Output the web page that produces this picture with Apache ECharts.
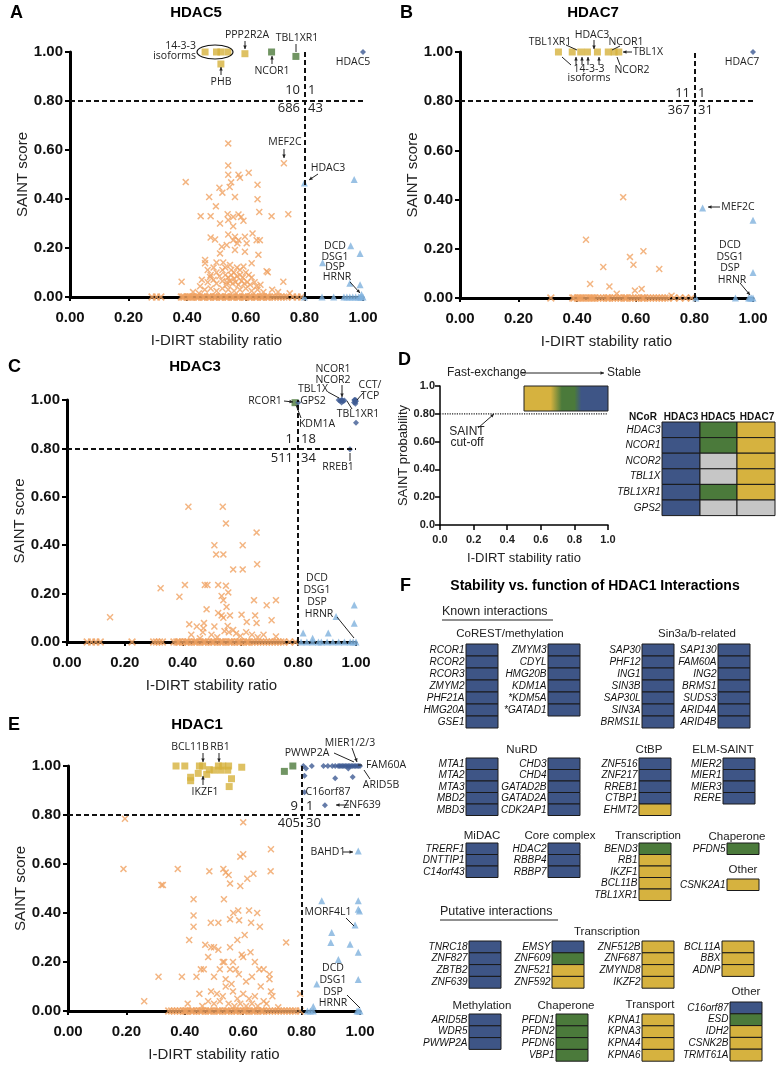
<!DOCTYPE html>
<html>
<head>
<meta charset="utf-8">
<script src="https://cdn.jsdelivr.net/npm/echarts@6/dist/echarts.min.js"></script>
<style>html,body{margin:0;padding:0;background:#fff}#main{width:777px;height:1066px}</style>
</head>
<body>
<div id="main"></div>
<script>
// ---------- scatter data (I-DIRT ratio, SAINT score) ----------
// HDAC5
var A_fast = [[0.54,0.627],[0.54,0.537],[0.73,0.546],[0.395,0.469],[0.54,0.499],[0.575,0.499],[0.58,0.487],[0.61,0.507],[0.51,0.446],[0.52,0.426],[0.55,0.468],[0.545,0.449],[0.64,0.458],[0.475,0.408],[0.563,0.408],[0.64,0.399],[0.498,0.37],[0.646,0.347],[0.446,0.33],[0.48,0.33],[0.538,0.338],[0.557,0.327],[0.575,0.337],[0.584,0.327],[0.54,0.314],[0.512,0.3],[0.557,0.289],[0.592,0.311],[0.688,0.33],[0.745,0.338],[0.623,0.259],[0.54,0.255],[0.48,0.243],[0.495,0.235],[0.563,0.246],[0.575,0.232],[0.557,0.232],[0.597,0.246],[0.535,0.212],[0.518,0.205],[0.571,0.219],[0.603,0.219],[0.637,0.232],[0.648,0.232],[0.563,0.192],[0.597,0.185],[0.643,0.172],[0.512,0.178],[0.461,0.151],[0.546,0.131],[0.50,0.141],[0.523,0.141],[0.461,0.138],[0.62,0.138],[0.675,0.101],[0.592,0.124],
  [0.47,0.11],[0.49,0.12],[0.50,0.10],[0.52,0.11],[0.53,0.12],[0.55,0.11],[0.56,0.10],[0.57,0.12],[0.58,0.11],[0.60,0.10],[0.48,0.09],[0.51,0.085],[0.53,0.09],[0.54,0.08],[0.55,0.09],[0.56,0.075],[0.57,0.085],[0.58,0.09],[0.59,0.08],[0.61,0.09],[0.62,0.08],[0.45,0.07],[0.47,0.06],[0.49,0.07],[0.50,0.055],[0.52,0.065],[0.535,0.05],[0.545,0.065],[0.555,0.055],[0.565,0.06],[0.575,0.05],[0.585,0.065],[0.595,0.055],[0.605,0.06],[0.615,0.05],[0.63,0.06],[0.65,0.05],[0.381,0.062],[0.444,0.044],[0.478,0.082],[0.671,0.105],[0.728,0.062],[0.637,0.044],[0.535,0.06],[0.46,0.03],[0.48,0.035],[0.50,0.025],[0.52,0.035],[0.54,0.03],[0.56,0.025],[0.58,0.03],[0.60,0.035],[0.62,0.025],[0.64,0.03],[0.66,0.02],[0.69,0.03],[0.71,0.02],[0.75,0.015],[0.42,0.02],[0.44,0.015]];
var A_zeroFast = [0.28,0.295,0.31,0.38,0.385,0.39,0.40,0.405,0.41,0.415,0.42,0.43,0.435,0.44,0.45,0.455,0.46,0.47,0.475,0.48,0.49,0.495,0.50,0.51,0.515,0.52,0.53,0.535,0.54,0.55,0.555,0.56,0.57,0.575,0.58,0.59,0.595,0.60,0.61,0.615,0.62,0.63,0.635,0.64,0.65,0.655,0.66,0.67,0.675,0.68,0.69,0.70,0.71,0.72,0.73,0.74,0.76,0.775,0.79];
var A_slow = [[0.80,0.465],[0.97,0.48],[0.958,0.209],[0.99,0.178],[0.862,0.14],[0.955,0.056],[0.99,0.05],[0.995,0.01]];
var A_zeroSlow = [0.80,0.86,0.90,0.935,0.945,0.955,0.965,0.975,0.985,0.99,0.995,1.0];
var A_yellow = [[0.461,1],[0.50,1],[0.515,1],[0.539,1],[0.515,0.951],[0.597,0.993]];
var A_green = [[0.688,1],[0.771,0.982]];
var A_bait = [[1,1]];
var A_counts = ['10','1','686','43'];

// HDAC7
var B_fast = [[0.557,0.41],[0.43,0.237],[0.58,0.167],[0.626,0.19],[0.489,0.126],[0.592,0.135],[0.68,0.118],[0.444,0.057],[0.51,0.047],[0.535,0.017],[0.597,0.03],[0.62,0.037],[0.722,0.009]];
var B_zeroFast = [0.31,0.385,0.39,0.40,0.405,0.41,0.415,0.42,0.43,0.44,0.445,0.45,0.455,0.46,0.47,0.48,0.49,0.50,0.505,0.51,0.52,0.53,0.54,0.55,0.56,0.565,0.57,0.58,0.59,0.60,0.61,0.62,0.625,0.63,0.64,0.65,0.66,0.67,0.68,0.69,0.70,0.71,0.73,0.75,0.77,0.79];
var B_slow = [[0.828,0.366],[1.0,0.316],[1.0,0.104]];
var B_zeroSlow = [0.805,0.94,0.985,0.99,0.995,1.0];
var B_yellow = [[0.336,1],[0.383,1],[0.412,1],[0.435,1],[0.469,1],[0.506,1],[0.526,1],[0.542,1]];
var B_bait = [[1,1]];
var B_counts = ['11','1','367','31'];

// HDAC3
var C_fast = [[0.42,0.559],[0.539,0.559],[0.55,0.49],[0.51,0.40],[0.608,0.40],[0.516,0.362],[0.541,0.362],[0.575,0.30],[0.608,0.30],[0.658,0.321],[0.656,0.452],
  [0.324,0.222],[0.389,0.187],[0.408,0.236],[0.477,0.236],[0.486,0.236],[0.523,0.236],[0.55,0.232],[0.558,0.205],[0.535,0.19],[0.541,0.173],[0.647,0.173],[0.723,0.173],[0.691,0.152],[0.149,0.102],[0.483,0.135],[0.523,0.12],[0.535,0.11],[0.541,0.10],[0.564,0.11],[0.604,0.113],[0.651,0.11],[0.552,0.145],[0.708,0.09],[0.423,0.073],[0.449,0.064],[0.474,0.078],[0.51,0.064],[0.472,0.057],[0.622,0.083],[0.656,0.078],[0.556,0.066],[0.723,0.023],
  [0.43,0.03],[0.47,0.04],[0.50,0.03],[0.545,0.045],[0.56,0.04],[0.575,0.05],[0.585,0.035],[0.60,0.025],[0.62,0.04],[0.64,0.03],[0.66,0.02],[0.68,0.03],[0.46,0.015],[0.52,0.02]];
var C_zeroFast = [0.07,0.085,0.10,0.115,0.225,0.30,0.31,0.32,0.33,0.37,0.38,0.385,0.39,0.40,0.41,0.415,0.42,0.43,0.44,0.445,0.45,0.46,0.47,0.475,0.48,0.49,0.50,0.505,0.51,0.52,0.53,0.535,0.54,0.55,0.56,0.565,0.57,0.58,0.59,0.595,0.60,0.61,0.62,0.625,0.63,0.64,0.65,0.66,0.67,0.68,0.69,0.70,0.71,0.72,0.73,0.74,0.75,0.77,0.79];
var C_slow = [[0.817,0.037],[0.85,0.015],[0.904,0.037],[0.931,0.105],[0.994,0.153],[0.994,0.077]];
var C_zeroSlow = [0.81,0.83,0.85,0.87,0.88,0.90,0.92,0.94,0.96,0.98,0.99,1.0];
var C_green = [[0.789,0.989]];
var C_blue = [[0.80,0.99],[0.94,1.0],[0.945,0.996],[0.95,1.0],[0.955,0.995],[0.96,0.998],[0.993,0.99],[0.996,1.0],[1.0,0.995],[0.998,0.985],[1.0,0.906],[0.979,0.797],[0.95,0.99],[0.952,1.0],[0.994,1.0],[0.997,0.992],[0.999,1.0]];
var C_counts = ['1','18','511','34'];

// HDAC1
var E_fast = [[0.195,0.785],[0.60,0.77],[0.695,0.66],[0.19,0.58],[0.376,0.58],[0.484,0.57],[0.532,0.58],[0.54,0.565],[0.55,0.555],[0.555,0.52],[0.59,0.63],[0.60,0.64],[0.59,0.51],[0.614,0.54],[0.635,0.56],[0.694,0.57],[0.32,0.514],[0.325,0.514],
  [0.43,0.456],[0.43,0.39],[0.43,0.344],[0.534,0.456],[0.583,0.41],[0.566,0.40],[0.62,0.41],[0.648,0.40],[0.627,0.36],[0.657,0.344],[0.489,0.36],[0.515,0.36],[0.555,0.374],[0.586,0.37],[0.415,0.29],[0.747,0.28],
  [0.261,0.04],[0.31,0.14],[0.39,0.14],[0.44,0.14],[0.41,0.03],
  [0.47,0.27],[0.49,0.26],[0.50,0.26],[0.515,0.25],[0.53,0.20],[0.535,0.20],[0.555,0.26],[0.565,0.20],[0.58,0.29],[0.595,0.23],[0.60,0.22],[0.625,0.24],[0.605,0.31],[0.64,0.20],[0.655,0.17],[0.67,0.17],[0.69,0.15],[0.465,0.17],[0.455,0.17],[0.48,0.22],[0.50,0.14],[0.52,0.17],[0.54,0.13],[0.555,0.17],[0.575,0.17],[0.585,0.15],[0.61,0.12],[0.63,0.14],[0.66,0.10],[0.69,0.13],[0.695,0.08],[0.70,0.06],[0.45,0.07],[0.49,0.08],[0.51,0.07],[0.53,0.06],[0.565,0.08],[0.58,0.05],[0.60,0.07],[0.62,0.05],[0.64,0.06],[0.67,0.04],[0.48,0.04],[0.50,0.03],[0.52,0.04],[0.55,0.03],[0.57,0.02],[0.59,0.03],[0.61,0.02],[0.63,0.03],[0.65,0.02],[0.68,0.03],[0.72,0.015],[0.795,0.07],[0.46,0.02],[0.54,0.10],[0.56,0.11]];
var E_zeroFast = [0.345,0.355,0.365,0.375,0.385,0.395,0.40,0.405,0.41,0.42,0.425,0.43,0.44,0.45,0.455,0.46,0.47,0.48,0.485,0.49,0.50,0.51,0.515,0.52,0.53,0.54,0.545,0.55,0.56,0.57,0.575,0.58,0.59,0.60,0.605,0.61,0.62,0.63,0.635,0.64,0.65,0.66,0.665,0.67,0.68,0.69,0.70,0.71,0.72,0.73,0.74,0.75,0.76,0.77,0.78,0.795];
var E_slow = [[0.994,0.653],[0.869,0.45],[0.994,0.45],[0.994,0.415],[0.998,0.408],[0.983,0.351],[0.903,0.32],[0.90,0.28],[0.966,0.272],[0.926,0.21],[0.994,0.24],[0.994,0.129],[0.852,0.11],[0.84,0.018]];
var E_zeroSlow = [0.82,0.83,0.84,0.99,0.995,1.0];
var E_yellow = [[0.37,1],[0.40,1],[0.45,1],[0.461,1],[0.484,0.985],[0.515,1],[0.53,1],[0.55,1],[0.595,0.995],[0.42,0.954],[0.446,0.97],[0.475,0.966],[0.50,0.983],[0.523,0.983],[0.547,0.983],[0.56,0.948],[0.552,0.916],[0.42,0.94]];
var E_green = [[0.741,0.978],[0.77,1.0]];
var E_blue = [[0.806,1],[0.815,0.99],[0.835,1],[0.875,1],[0.89,1],[0.905,1],[0.915,1],[0.925,1],[0.93,1],[0.935,1],[0.94,1],[0.945,1],[0.95,1],[0.955,1],[0.96,1],[0.965,1],[0.97,1],[0.975,1],[0.98,1],[0.985,1],[0.99,1],[0.995,1],[1.0,1],[0.81,0.96],[0.915,0.95],[0.975,0.955],[0.81,0.893],[0.88,0.84],[0.96,0.99]];
var E_counts = ['9','1','405','30'];

// panel D
var D_band = [[0.5,0.82,1.0,1.0]];
var D_cutoff = [[0,0.8],[1,0.8]];
var D_rows = ['HDAC3','NCOR1','NCOR2','TBL1X','TBL1XR1','GPS2'];
var D_cols = ['HDAC3','HDAC5','HDAC7'];
var D_hdac3 = 'bbbbbb', D_hdac5 = 'ggnngn', D_hdac7 = 'yyyyyn';

// panel F (b = stable, g = intermediate, y = fast-exchange)
var coREST_a = ['RCOR1','RCOR2','RCOR3','ZMYM2','PHF21A','HMG20A','GSE1'], coREST_a_s = 'bbbbbbb';
var coREST_b = ['ZMYM3','CDYL','HMG20B','KDM1A','*KDM5A','*GATAD1'], coREST_b_s = 'bbbbbb';
var sin3_a = ['SAP30','PHF12','ING1','SIN3B','SAP30L','SIN3A','BRMS1L'], sin3_a_s = 'bbbbbbb';
var sin3_b = ['SAP130','FAM60A','ING2','BRMS1','SUDS3','ARID4A','ARID4B'], sin3_b_s = 'bbbbbbb';
var nurd_a = ['MTA1','MTA2','MTA3','MBD2','MBD3'], nurd_a_s = 'bbbbb';
var nurd_b = ['CHD3','CHD4','GATAD2B','GATAD2A','CDK2AP1'], nurd_b_s = 'bbbbb';
var ctbp = ['ZNF516','ZNF217','RREB1','CTBP1','EHMT2'], ctbp_s = 'bbbby';
var elm = ['MIER2','MIER1','MIER3','RERE'], elm_s = 'bbbb';
var midac = ['TRERF1','DNTTIP1','C14orf43'], midac_s = 'bbb';
var core = ['HDAC2','RBBP4','RBBP7'], core_s = 'bbb';
var transK = ['BEND3','RB1','IKZF1','BCL11B','TBL1XR1'], transK_s = 'gyyyy';
var chapK = ['PFDN5'], chapK_s = 'g';
var otherK = ['CSNK2A1'], otherK_s = 'y';
var put1 = ['TNRC18','ZNF827','ZBTB2','ZNF639'], put1_s = 'bbbb';
var put2 = ['EMSY','ZNF609','ZNF521','ZNF592'], put2_s = 'bgyy';
var put3 = ['ZNF512B','ZNF687','ZMYND8','IKZF2'], put3_s = 'yyyy';
var put4 = ['BCL11A','BBX','ADNP'], put4_s = 'yyy';
var methP = ['ARID5B','WDR5','PWWP2A'], methP_s = 'bbb';
var chapP = ['PFDN1','PFDN2','PFDN6','VBP1'], chapP_s = 'gggg';
var transpP = ['KPNA1','KPNA3','KPNA4','KPNA6'], transpP_s = 'yyyy';
var otherP = ['C16orf87','ESD','IDH2','CSNK2B','TRMT61A'], otherP_s = 'bgyyy';

// ---------- styling ----------
var fontA = '"Liberation Sans", Arial, sans-serif';
var fontO = '"Open Sans", sans-serif';
var cFast = '#f0a363', cSlow = '#80b2dd', cYel = '#d6b13c', cGrn = '#4e7b3c', cBlu = '#3f5b93';
var cellCol = {b:'#3e5586', g:'#4b7a3b', y:'#d6b23f', n:'#c6c6c6'};
var xSym = 'path://M0,1.5L1.5,0L5,3.5L8.5,0L10,1.5L6.5,5L10,8.5L8.5,10L5,6.5L1.5,10L0,8.5L3.5,5Z';

var myChart = echarts.init(document.getElementById('main'));

function zeros(xs){ return xs.map(function(x){ return [x,0]; }); }
function sc(gi, data, sym, size, color, z){
  return {type:'scatter', xAxisIndex:gi, yAxisIndex:gi, data:data, symbol:sym, symbolSize:size,
    itemStyle:{color:color}, silent:true, z:z||3};
}
function cutLines(gi){
  return {type:'scatter', xAxisIndex:gi, yAxisIndex:gi, data:[], silent:true, z:2,
    markLine:{silent:true, symbol:['none','none'], label:{show:false},
      lineStyle:{color:'#111', width:2, type:[5,3]},
      data:[[{coord:[0.8,0]},{coord:[0.8,1]}],[{coord:[0,0.8]},{coord:[1,0.8]}]]}};
}
function xAx(gi){
  return {gridIndex:gi, type:'value', min:0, max:1, interval:0.2, splitLine:{show:false},
    axisLine:{lineStyle:{color:'#000', width:3}}, axisTick:{length:4, lineStyle:{color:'#000', width:2}},
    axisLabel:{formatter:function(v){return v.toFixed(2);}, fontWeight:'bold', fontSize:15, color:'#111', margin:13, fontFamily:fontA},
    name:'I-DIRT stability ratio', nameLocation:'middle', nameGap:36,
    nameTextStyle:{fontSize:15, color:'#222', fontFamily:fontA}};
}
function yAx(gi){
  return {gridIndex:gi, type:'value', min:0, max:1, interval:0.2, splitLine:{show:false},
    axisLine:{lineStyle:{color:'#000', width:3}}, axisTick:{length:5, lineStyle:{color:'#000', width:2}},
    axisLabel:{formatter:function(v){return v.toFixed(2);}, fontWeight:'bold', fontSize:15, color:'#111', margin:7, fontFamily:fontA},
    name:'SAINT score', nameLocation:'middle', nameGap:40,
    nameTextStyle:{fontSize:15, color:'#222', fontFamily:fontA}};
}

// ---------- table cells ----------
var cells = [];
function addCol(x, y, names, states, w, h, labelled){
  names.forEach(function(n, i){
    cells.push({x:x, y:y + i*h, w:w, h:h, name:labelled === false ? '' : n, s:states.charAt(i)});
  });
}
var RH = 11.8, CW = 32;
addCol(466, 644, coREST_a, coREST_a_s, CW, 12);
addCol(548, 644, coREST_b, coREST_b_s, CW, 12);
addCol(642, 644, sin3_a, sin3_a_s, CW, 12);
addCol(718, 644, sin3_b, sin3_b_s, CW, 12);
addCol(466, 758, nurd_a, nurd_a_s, CW, 11.5);
addCol(548, 758, nurd_b, nurd_b_s, CW, 11.5);
addCol(639, 758, ctbp, ctbp_s, CW, 11.5);
addCol(723, 758, elm, elm_s, CW, 11.5);
addCol(466, 843, midac, midac_s, CW, 11.5);
addCol(548, 843, core, core_s, CW, 11.5);
addCol(639, 843, transK, transK_s, CW, 11.5);
addCol(727, 843, chapK, chapK_s, CW, 11.5);
addCol(727, 879, otherK, otherK_s, CW, 11.5);
addCol(469, 941, put1, put1_s, CW, RH);
addCol(552, 941, put2, put2_s, CW, RH);
addCol(642, 941, put3, put3_s, CW, RH);
addCol(722, 941, put4, put4_s, CW, RH);
addCol(469, 1014, methP, methP_s, CW, RH);
addCol(556, 1014, chapP, chapP_s, CW, RH);
addCol(642, 1014, transpP, transpP_s, CW, RH);
addCol(730, 1002, otherP, otherP_s, CW, RH);
addCol(662, 422, D_rows, D_hdac3, 38, 15.6);
addCol(700, 422, D_rows, D_hdac5, 37, 15.6, false);
addCol(737, 422, D_rows, D_hdac7, 38, 15.6, false);

// ---------- annotation helpers ----------
function T(x, y, text, o){
  o = o || {};
  var al = o.align || 'center';
  return {type:'text', x:x, y:y, silent:true, z:100,
    style:{text:text, fill:o.color || '#222', font:o.font || ('10.5px ' + fontO),
      align:al, textAlign:al, verticalAlign:'middle', textVerticalAlign:'middle'}};
}
function Ln(x1, y1, x2, y2, w, dash){
  return {type:'line', silent:true, z:100, shape:{x1:x1, y1:y1, x2:x2, y2:y2},
    style:{stroke:'#222', lineWidth:w || 1, lineDash:dash || null}};
}
function Ar(x1, y1, x2, y2){
  var a = Math.atan2(y2 - y1, x2 - x1), s = 3.5, c = Math.cos(a), n = Math.sin(a);
  return [Ln(x1, y1, x2, y2),
    {type:'polygon', silent:true, z:100,
     shape:{points:[[x2, y2],[x2 - s*c + s*0.5*n, y2 - s*n - s*0.5*c],[x2 - s*c - s*0.5*n, y2 - s*n + s*0.5*c]]},
     style:{fill:'#222'}}];
}
var bold = function(px){ return 'bold ' + px + 'px ' + fontA; };
var cnt = '13px ' + fontO;
function counts(xr, yTop, yBot, arr){
  return [T(xr, yTop, arr[0], {align:'right', font:cnt}), T(xr + 8, yTop, arr[1], {align:'left', font:cnt}),
          T(xr, yBot, arr[2], {align:'right', font:cnt}), T(xr + 8, yBot, arr[3], {align:'left', font:cnt})];
}

var g = [];
// panel letters and titles
g.push(T(10, 13, 'A', {align:'left', font:bold(18), color:'#000'}), T(196, 13, 'HDAC5', {font:bold(15), color:'#000'}));
g.push(T(400, 13, 'B', {align:'left', font:bold(18), color:'#000'}), T(593, 13, 'HDAC7', {font:bold(15), color:'#000'}));
g.push(T(8, 367, 'C', {align:'left', font:bold(18), color:'#000'}), T(195, 367, 'HDAC3', {font:bold(15), color:'#000'}));
g.push(T(398, 360, 'D', {align:'left', font:bold(18), color:'#000'}));
g.push(T(8, 725, 'E', {align:'left', font:bold(18), color:'#000'}), T(197, 725, 'HDAC1', {font:bold(15), color:'#000'}));
g.push(T(400, 586, 'F', {align:'left', font:bold(18), color:'#000'}), T(595, 586, 'Stability vs. function of HDAC1 Interactions', {font:bold(14), color:'#000'}));

// A annotations
g.push(T(247, 35, 'PPP2R2A'), T(297, 38, 'TBL1XR1'), T(196, 46, '14-3-3', {align:'right'}), T(196, 56, 'isoforms', {align:'right'}),
  T(221, 82, 'PHB'), T(272, 71, 'NCOR1'), T(353, 62, 'HDAC5'), T(285, 142, 'MEF2C'), T(328, 168, 'HDAC3'),
  T(335, 246, 'DCD'), T(335, 257, 'DSG1'), T(335, 267, 'DSP'), T(337, 277, 'HRNR'));
g.push({type:'ellipse', silent:true, z:100, shape:{cx:215, cy:52, rx:18, ry:7}, style:{fill:'none', stroke:'#111', lineWidth:1.2}});
g = g.concat(Ar(245, 41, 245, 49), [Ln(296, 44, 296, 52)], Ar(272, 64, 272, 56), Ar(221, 75, 221, 67), Ar(284, 149, 284, 158), Ar(318, 174, 309, 180), Ar(350, 282, 360, 293));
g = g.concat(counts(300, 90, 108, A_counts));

// B annotations
g.push(T(550, 42, 'TBL1XR1'), T(592, 35, 'HDAC3'), T(626, 42, 'NCOR1'), T(633, 52, 'TBL1X', {align:'left'}),
  T(589, 69, '14-3-3'), T(589, 78, 'isoforms'), T(632, 70, 'NCOR2'), T(742, 62, 'HDAC7'), T(738, 207, 'MEF2C'),
  T(730, 245, 'DCD'), T(730, 257, 'DSG1'), T(730, 268, 'DSP'), T(732, 280, 'HRNR'));
g = g.concat([Ln(566, 45, 577, 50), Ln(620, 46, 612, 50), Ln(571, 65, 562, 57), Ln(620, 65, 617, 57)],
  Ar(594, 40, 594, 49), Ar(632, 52, 623, 52), Ar(576, 65, 576, 57), Ar(582, 65, 582, 57), Ar(588, 65, 588, 57), Ar(599, 65, 599, 57),
  Ar(720, 207, 708, 207), Ar(740, 283, 750, 295));
g = g.concat(counts(690, 93, 110, B_counts));

// C annotations
g.push(T(333, 369, 'NCOR1'), T(333, 380, 'NCOR2'), T(370, 385, 'CCT/'), T(313, 389, 'TBL1X'), T(370, 396, 'TCP'),
  T(265, 401, 'RCOR1'), T(313, 401, 'GPS2'), T(358, 414, 'TBL1XR1'), T(317, 424, 'KDM1A'), T(338, 467, 'RREB1'),
  T(317, 578, 'DCD'), T(317, 590, 'DSG1'), T(317, 602, 'DSP'), T(319, 614, 'HRNR'));
g = g.concat(Ar(284, 401, 293, 402), Ar(342, 385, 342, 397), [Ln(328, 392, 339, 398), Ln(363, 393, 357, 400), Ln(352, 409, 347, 401), Ln(301, 418, 296, 405), Ln(350, 461, 350, 453), Ln(337, 617, 354, 638)]);
g = g.concat(counts(293, 439, 458, C_counts));

// D annotations
g.push(T(447, 373, 'Fast-exchange', {align:'left', font:'12px ' + fontA}), T(607, 373, 'Stable', {align:'left', font:'12px ' + fontA}),
  T(467, 432, 'SAINT', {font:'12px ' + fontA}), T(467, 443, 'cut-off', {font:'12px ' + fontA}),
  T(643, 417, 'NCoR', {font:bold(10), color:'#111'}), T(681, 417, 'HDAC3', {font:bold(10), color:'#111'}),
  T(718, 417, 'HDAC5', {font:bold(10), color:'#111'}), T(757, 417, 'HDAC7', {font:bold(10), color:'#111'}));
g = g.concat(Ar(522, 373, 604, 373), Ar(478, 428, 494, 414));

// E annotations
g.push(T(190, 747, 'BCL11B'), T(220, 747, 'RB1'), T(205, 792, 'IKZF1'), T(350, 743, 'MIER1/2/3'), T(307, 753, 'PWWP2A'),
  T(386, 765, 'FAM60A'), T(381, 785, 'ARID5B'), T(328, 792, 'C16orf87'), T(362, 805, 'ZNF639'),
  T(328, 852, 'BAHD1'), T(328, 912, 'MORF4L1'), T(333, 968, 'DCD'), T(333, 980, 'DSG1'), T(333, 992, 'DSP'), T(333, 1003, 'HRNR'));
g = g.concat(Ar(203, 753, 203, 762), Ar(219, 753, 219, 762), Ar(203, 785, 203, 776), [Ln(334, 753, 354, 762)], Ar(352, 748, 357, 762),
  [Ln(362, 765, 358, 765), Ln(370, 779, 364, 770)], Ar(349, 805, 336, 805), Ar(343, 852, 353, 852), [Ln(346, 918, 354, 926), Ln(347, 995, 360, 1008)]);
g = g.concat([T(298, 806, E_counts[0], {align:'right', font:cnt}), T(306, 806, E_counts[1], {align:'left', font:cnt}),
  T(300, 823, E_counts[2], {align:'right', font:cnt}), T(306, 823, E_counts[3], {align:'left', font:cnt})]);

// F headings
var gl = '11.5px ' + fontA;
g.push(T(442, 612, 'Known interactions', {align:'left', font:'12.5px ' + fontA}), Ln(442, 620, 553, 620),
  T(440, 912, 'Putative interactions', {align:'left', font:'12.5px ' + fontA}), Ln(440, 920, 558, 920),
  T(510, 634, 'CoREST/methylation', {font:gl}), T(697, 634, 'Sin3a/b-related', {font:gl}),
  T(522, 750, 'NuRD', {font:gl}), T(649, 750, 'CtBP', {font:gl}), T(723, 750, 'ELM-SAINT', {font:gl}),
  T(482, 836, 'MiDAC', {font:gl}), T(560, 836, 'Core complex', {font:gl}), T(648, 836, 'Transcription', {font:gl}),
  T(737, 837, 'Chaperone', {font:gl}), T(743, 870, 'Other', {font:gl}),
  T(607, 932, 'Transcription', {font:gl}), T(482, 1006, 'Methylation', {font:gl}), T(566, 1006, 'Chaperone', {font:gl}),
  T(650, 1005, 'Transport', {font:gl}), T(746, 992, 'Other', {font:gl}));

// ---------- option ----------
var option = {
  animation:false,
  textStyle:{fontFamily:fontA},
  grid:[
    {left:70, top:52, width:293, height:245},
    {left:460, top:52, width:293, height:246},
    {left:67, top:400, width:289, height:242},
    {left:68, top:766, width:292, height:245},
    {left:440, top:386, width:168, height:139},
    {left:0, top:0, width:777, height:1066}
  ],
  xAxis:[xAx(0), xAx(1), xAx(2), xAx(3),
    {gridIndex:4, type:'value', min:0, max:1, interval:0.2, splitLine:{show:false},
     axisLine:{lineStyle:{color:'#000', width:1.5}}, axisTick:{length:5, lineStyle:{color:'#000', width:1.5}},
     axisLabel:{formatter:function(v){return v.toFixed(1);}, fontWeight:'bold', fontSize:11, color:'#222', margin:9},
     name:'I-DIRT stability ratio', nameLocation:'middle', nameGap:27, nameTextStyle:{fontSize:13, color:'#222'}},
    {gridIndex:5, type:'value', min:0, max:777, show:false}
  ],
  yAxis:[yAx(0), yAx(1), yAx(2), yAx(3),
    {gridIndex:4, type:'value', min:0, max:1, interval:0.2, splitLine:{show:false},
     axisLine:{lineStyle:{color:'#000', width:1.5}}, axisTick:{length:5, lineStyle:{color:'#000', width:1.5}},
     axisLabel:{formatter:function(v){return (v === 0 || v === 1) ? v.toFixed(1) : v.toFixed(2);}, fontWeight:'bold', fontSize:11, color:'#222', margin:5},
     name:'SAINT probability', nameLocation:'middle', nameGap:30, nameTextStyle:{fontSize:13, color:'#222'}},
    {gridIndex:5, type:'value', min:0, max:1066, inverse:true, show:false}
  ],
  graphic:{elements:g},
  series:[
    cutLines(0), sc(0, zeros(A_zeroFast), xSym, 8, cFast), sc(0, A_fast, xSym, 7, cFast),
    sc(0, zeros(A_zeroSlow), 'triangle', 7, cSlow), sc(0, A_slow, 'triangle', 7, cSlow),
    sc(0, A_yellow, 'rect', 7, cYel), sc(0, A_green, 'rect', 7, cGrn), sc(0, A_bait, 'diamond', 6, cBlu),

    cutLines(1), sc(1, zeros(B_zeroFast), xSym, 8, cFast), sc(1, B_fast, xSym, 7, cFast),
    sc(1, zeros(B_zeroSlow), 'triangle', 7, cSlow), sc(1, B_slow, 'triangle', 7, cSlow),
    sc(1, B_yellow, 'rect', 7, cYel), sc(1, B_bait, 'diamond', 6, cBlu),

    cutLines(2), sc(2, zeros(C_zeroFast), xSym, 8, cFast), sc(2, C_fast, xSym, 7, cFast),
    sc(2, zeros(C_zeroSlow), 'triangle', 7, cSlow), sc(2, C_slow, 'triangle', 7, cSlow),
    sc(2, C_green, 'rect', 7, cGrn), sc(2, C_blue, 'diamond', 6, cBlu),

    cutLines(3), sc(3, zeros(E_zeroFast), xSym, 8, cFast), sc(3, E_fast, xSym, 7, cFast),
    sc(3, zeros(E_zeroSlow), 'triangle', 7, cSlow), sc(3, E_slow, 'triangle', 7, cSlow),
    sc(3, E_yellow, 'rect', 7, cYel), sc(3, E_green, 'rect', 7, cGrn), sc(3, E_blue, 'diamond', 6, cBlu),

    {type:'line', xAxisIndex:4, yAxisIndex:4, data:D_cutoff, symbol:'none', silent:true,
     lineStyle:{color:'#222', width:1.2, type:'dotted'}},
    {type:'custom', xAxisIndex:4, yAxisIndex:4, data:D_band, silent:true,
     renderItem:function(params, api){
       var p0 = api.coord([api.value(0), api.value(3)]), p1 = api.coord([api.value(2), api.value(1)]);
       return {type:'rect', shape:{x:p0[0], y:p0[1], width:p1[0] - p0[0], height:p1[1] - p0[1]},
         style:{stroke:'#222', lineWidth:1,
           fill:new echarts.graphic.LinearGradient(0, 0, 1, 0, [
             {offset:0, color:cellCol.y},{offset:0.32, color:cellCol.y},{offset:0.45, color:cellCol.g},
             {offset:0.6, color:cellCol.g},{offset:0.68, color:cellCol.b},{offset:1, color:cellCol.b}])}};
     }},
    {type:'custom', xAxisIndex:5, yAxisIndex:5, silent:true, z:5,
     data:cells.map(function(c){ return [c.x, c.y]; }),
     renderItem:function(params, api){
       var c = cells[params.dataIndex], p = api.coord([c.x, c.y]);
       var kids = [{type:'rect', shape:{x:p[0], y:p[1], width:c.w, height:c.h},
         style:{fill:cellCol[c.s], stroke:'#1a1a1a', lineWidth:1}}];
       if (c.name) kids.push({type:'text', x:p[0] - 1.5, y:p[1] + c.h/2,
         style:{text:c.name, align:'right', textAlign:'right', verticalAlign:'middle', textVerticalAlign:'middle',
           font:'italic 10px ' + fontA, fill:'#111'}});
       return {type:'group', children:kids};
     }}
  ]
};

myChart.setOption(option);
</script>
</body>
</html>
